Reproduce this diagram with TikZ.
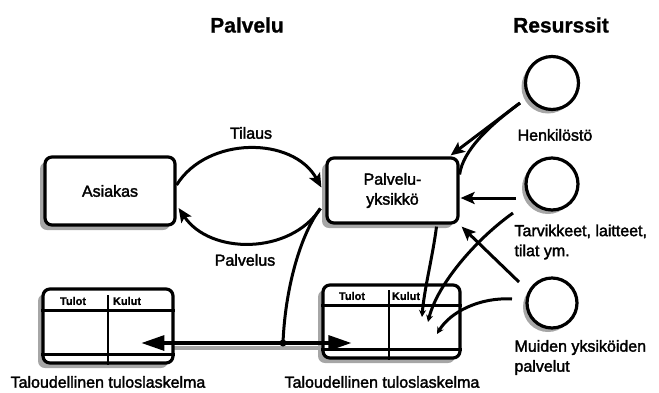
\documentclass[tikz,border=0pt]{standalone}
\usepackage{fontspec}
\setmainfont{Liberation Sans}[FakeBold=2]
\newfontfamily\titlefont{Liberation Sans Bold}[FakeBold=1]
\usetikzlibrary{arrows.meta,shadows,patterns,calc}
\begin{document}
\begin{tikzpicture}[x=1pt,y=-1pt,
  every node/.style={font=\fontsize{16}{20}\selectfont},
  title/.style={font=\titlefont\fontsize{21}{24}\selectfont},
  shad/.style={drop shadow={shadow xshift=-5pt,shadow yshift=-5pt,opacity=1,fill=black!35}},
  cshad/.style={drop shadow={shadow xshift=-4pt,shadow yshift=-4pt,opacity=1,fill=black!35}},
  box/.style={draw,line width=3.2pt,rounded corners=7pt,fill=white,shad,inner sep=0pt},
  res/.style={draw,circle,line width=3.2pt,fill=white,inner sep=0pt,cshad},
  tline/.style={line width=2.8pt},
  con/.style={line width=3pt},
  arr/.style={con,-{Stealth[length=14pt,width=12pt,inset=3pt]}},
  sarr/.style={con,-{Stealth[length=7pt,width=7pt]}},
  bigarr/.style={line width=3.2pt,-{Triangle[length=23pt,width=15pt]}},
  small/.style={font=\titlefont\fontsize{11}{13}\selectfont,inner sep=0pt},
  jdot/.style={circle,fill=black,inner sep=0pt,minimum size=7pt}
]
\useasboundingbox (0,0) rectangle (659,392);

% titles
\node[title] (tP) at (247,25) {Palvelu};
\node[title] (tR) at (561,25) {Resurssit};

% boxes
\node[box,minimum width=130pt,minimum height=68pt] (asiakas) at (110,191) {Asiakas};
\node[box,minimum width=131pt,minimum height=65pt,align=center] (pk) at (392.5,190.5) {Palvelu-\\yksikkö};

% resources
\node[res,minimum size=53pt] (henk) at (552,83) {};
\node[res,minimum size=52pt] (tarv) at (552,184) {};
\node[res,minimum size=50pt] (muid) at (552,303) {};
\node (lH) at (555,135) {Henkilöstö};
\node[anchor=west,align=left] (lT) at (511,242) {Tarvikkeet, laitteet,\\tilat ym.};
\node[anchor=west,align=left] (lM) at (511,357.5) {Muiden yksiköiden\\palvelut};

% horizontal line shadow
\fill[black!35] (143,346) rectangle (322,350);

% tables
\node[box,minimum width=130pt,minimum height=74pt] (tabL) at (108,326) {};
\node[box,minimum width=137pt,minimum height=73pt] (tabR) at (391.5,321.5) {};
\draw[tline] ($(tabL.north west)+(0,23)$) -- ($(tabL.north east)+(0,23)$);
\draw[tline] ($(tabL.north)+(0,8)$) -- (tabL.south);
\draw[tline] ($(tabL.south west)+(0,-10)$) -- ($(tabL.south east)+(0,-10)$);
\draw[tline] ($(tabR.north west)+(0,22)$) -- ($(tabR.north east)+(0,22)$);
\draw[tline] ($(tabR.north)+(-2.5,7)$) -- ($(tabR.south)+(-2.5,0)$);
\draw[tline] ($(tabR.south west)+(0,-10)$) -- ($(tabR.south east)+(0,-10)$);
\node[small] (tL1) at (73,301) {Tulot};
\node[small] (tL2) at (127,301) {Kulut};
\node[small] (tR1) at (352,296) {Tulot};
\node[small] (tR2) at (406,296) {Kulut};
\node (lL) at (108,382) {Taloudellinen tuloslaskelma};
\node (lR) at (382,382) {Taloudellinen tuloslaskelma};

% Tilaus / Palvelus
\draw[arr] ($(asiakas.east)+(0,-6)$) .. controls (207,136) and (293,136) .. ($(pk.west)+(-4,-3)$);
\node (lTil) at (251,133) {Tilaus};
\draw[arr] ($(pk.west)+(-5,18)$) .. controls (290,255) and (210,255) .. ($(asiakas.east)+(2,17)$);
\node (lPal) at (245,260) {Palvelus};

% junction and bookkeeping arrows
\node[jdot] (j) at (283,343) {};
\draw[con] ($(pk.west)+(-5,18)$) .. controls (300,235) and (285,290) .. (j.center);
\coordinate (tipL) at ($(tabL.west)+(100,17)$);
\coordinate (tipR) at ($(tabR.west)+(30,21.5)$);
\draw[bigarr] (j.center) -- (tipL);
\draw[bigarr] (j.center) -- (tipR);

% resources to unit
\coordinate (h1) at ($(henk.center)+(-32,20)$);
\draw[arr] (h1) -- ($(pk.north east)+(-9,-1)$);
\draw[con] (h1) .. controls (490,125) and (463,150) .. ($(pk.east)+(0,-16)$);
\draw[arr] ($(tarv.center)+(-36,14)$) -- ($(pk.east)+(1,7.5)$);
\draw[arr] ($(muid.center)+(-33,-21)$) -- ($(pk.south east)+(2,2)$);

% to right table
\draw[sarr] ($(tarv.center)+(-39,29)$) .. controls (475,240) and (437,285) .. ($(tabR.center)+(36.5,0.5)$);
\draw[sarr] ($(pk.south)+(44,2)$) .. controls (433,255) and (424,290) .. ($(tabR.center)+(30.5,-4.5)$);
\draw[sarr] ($(muid.center)+(-40,-4)$) .. controls (480,297) and (450,312) .. ($(tabR.center)+(45.5,12.5)$);
\end{tikzpicture}
\end{document}
